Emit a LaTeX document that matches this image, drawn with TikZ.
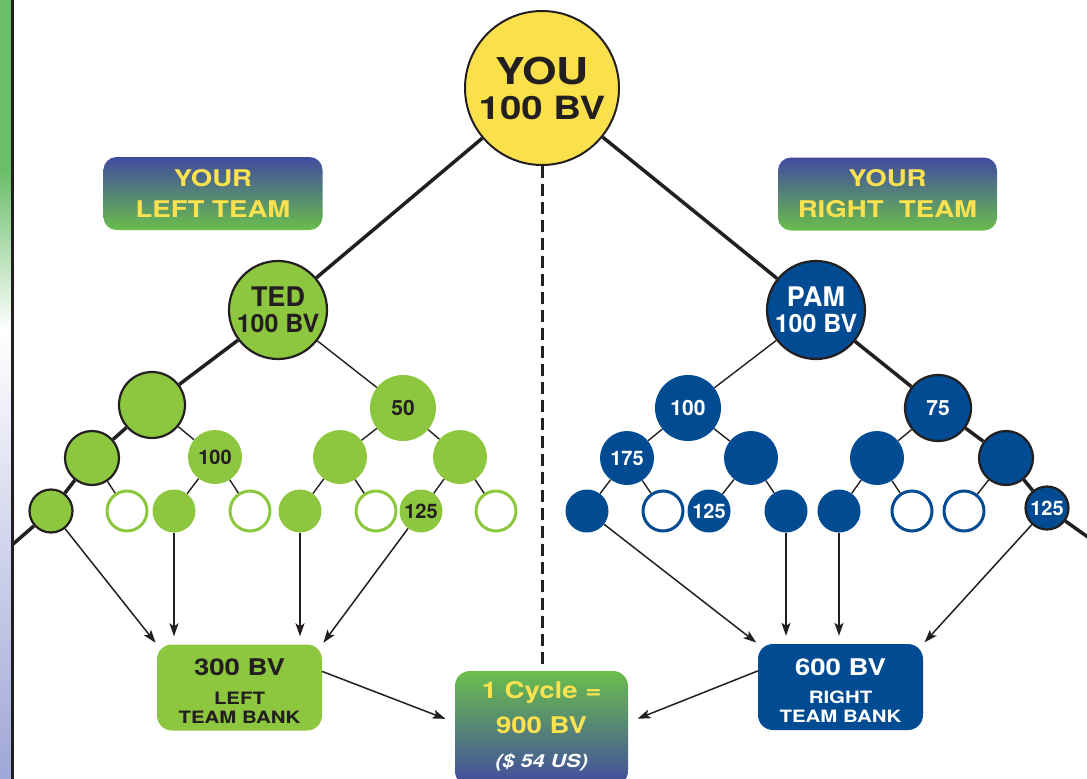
\documentclass[tikz,border=0pt]{standalone}
\usepackage{fontspec}
\setmainfont{TeX Gyre Heros}
\newfontfamily\widefont{TeX Gyre Heros}[FakeStretch=1.2]
\usepackage{tikz}
\usetikzlibrary{positioning,arrows.meta}

\definecolor{teamgreen}{RGB}{141,198,63}
\definecolor{teamblue}{RGB}{0,75,145}
\definecolor{youyellow}{RGB}{250,224,75}
\definecolor{labelyellow}{RGB}{253,226,80}
\definecolor{inkblack}{RGB}{35,31,32}
\definecolor{gradblue}{RGB}{65,74,160}
\definecolor{gradgreen}{RGB}{106,190,76}
\definecolor{stripgreen}{RGB}{106,189,105}
\definecolor{striplav}{RGB}{160,166,214}

\begin{document}
\begin{tikzpicture}[x=1pt, y=-1pt,
			youcircle/.style={circle, draw=inkblack, line width=2pt, fill=youyellow, minimum size=154pt, inner sep=0pt, align=center, text=inkblack, font=\widefont\bfseries\fontsize{37}{35}\selectfont},
			leadgreen/.style={circle, draw=inkblack, line width=2.2pt, fill=teamgreen, minimum size=98pt, inner sep=0pt, align=center, text=inkblack, font=\bfseries\fontsize{27}{26}\selectfont},
			leadblue/.style={leadgreen, fill=teamblue, text=white},
			gfull/.style={circle, fill=teamgreen, inner sep=0pt, text=inkblack},
			gedge/.style={gfull, draw=inkblack, line width=2.2pt},
			gopen/.style={circle, draw=teamgreen, line width=3pt, fill=white, minimum size=40pt, inner sep=0pt},
			bfull/.style={circle, fill=teamblue, inner sep=0pt, text=white},
			bedge/.style={bfull, draw=inkblack, line width=2.2pt},
			bopen/.style={circle, draw=teamblue, line width=3pt, fill=white, minimum size=40pt, inner sep=0pt},
			sizeA/.style={minimum size=66pt, font=\bfseries\fontsize{21}{21}\selectfont},
			sizeB/.style={minimum size=54pt, font=\bfseries\fontsize{20}{20}\selectfont},
			sizeC/.style={minimum size=43pt, font=\bfseries\fontsize{20}{20}\selectfont},
			teamlabel/.style={rectangle, rounded corners=13pt, top color=gradblue, bottom color=gradgreen, minimum width=219pt, minimum height=73pt, align=center, text=labelyellow, font=\widefont\bfseries\fontsize{23}{31}\selectfont},
			bankgreen/.style={rectangle, rounded corners=15pt, fill=teamgreen, minimum width=165pt, minimum height=86pt},
			bankblue/.style={bankgreen, fill=teamblue},
			cyclebox/.style={rectangle, rounded corners=15pt, top color=gradgreen, bottom color=gradblue, minimum width=173pt, minimum height=115pt},
			banksum/.style={anchor=base, inner sep=0pt, font=\widefont\bfseries\fontsize{23}{23}\selectfont},
			bankname/.style={anchor=base, inner sep=0pt, font=\widefont\bfseries\fontsize{17}{17}\selectfont},
			cycletext/.style={anchor=base, inner sep=0pt, text=labelyellow, font=\widefont\bfseries\fontsize{23}{23}\selectfont},
			thickline/.style={draw=inkblack, line width=3.5pt},
			thinline/.style={draw=inkblack, line width=1.4pt},
			dashline/.style={draw=inkblack, line width=3pt, dash pattern=on 12pt off 6pt},
			flow/.style={draw=inkblack, line width=1.5pt, -{Stealth[length=13pt,width=9pt,inset=3pt]}},
			]
			\useasboundingbox (0,0) rectangle (1087,779);
			%Side strip
				\fill[stripgreen] (0,0) rectangle (10.5,170);
				\shade[top color=stripgreen, bottom color=white] (0,170) rectangle (10.5,330);
				\shade[top color=white, bottom color=striplav] (0,330) rectangle (10.5,779);
				\draw[inkblack, line width=3pt] (12,0) -- (12,779);

			%Nodes
				\node[youcircle]	(you)		at (542,88)	{YOU\\\fontsize{32}{35}\selectfont 100 BV};
				\node[teamlabel]	(leftlabel)	at (213,193.5)	{YOUR\\LEFT TEAM};
				\node[teamlabel]	(rightlabel)	at (887.5,194)	{YOUR\\RIGHT~~TEAM};

				\node[leadgreen]	(ted)		at (278,310)	{TED\\\fontsize{25}{26}\selectfont 100 BV};
				\node[gedge,sizeA]	(l1a)		at (152,405)	{};
				\node[gfull,sizeA]	(l1b)		at (403,408)	{50};
				\node[gedge,sizeB]	(l2a)		at (92,458)	{};
				\node[gfull,sizeB]	(l2b)		at (215,457)	{100};
				\node[gfull,sizeB]	(l2c)		at (340,457)	{};
				\node[gfull,sizeB]	(l2d)		at (460,457)	{};
				\node[gedge,sizeC]	(l3a)		at (51,511)	{};
				\node[gopen]		(l3b)		at (127,511)	{};
				\node[gfull,sizeC]	(l3c)		at (174,511)	{};
				\node[gopen]		(l3d)		at (250,511)	{};
				\node[gfull,sizeC]	(l3e)		at (300,511)	{};
				\node[gopen]		(l3f)		at (376,511)	{};
				\node[gfull,sizeC]	(l3g)		at (421,511)	{125};
				\node[gopen]		(l3h)		at (496,511)	{};

				\node[leadblue]		(pam)		at (816,310)	{PAM\\\fontsize{25}{26}\selectfont 100 BV};
				\node[bfull,sizeA]	(r1a)		at (688,408)	{100};
				\node[bedge,sizeA]	(r1b)		at (938,408)	{75};
				\node[bfull,sizeB]	(r2a)		at (627,458)	{175};
				\node[bfull,sizeB]	(r2b)		at (751,458)	{};
				\node[bfull,sizeB]	(r2c)		at (877,458)	{};
				\node[bedge,sizeB]	(r2d)		at (1006,458)	{};
				\node[bfull,sizeC]	(r3a)		at (587,511)	{};
				\node[bopen]		(r3b)		at (663,511)	{};
				\node[bfull,sizeC]	(r3c)		at (709,511)	{125};
				\node[bfull,sizeC]	(r3d)		at (786,511)	{};
				\node[bfull,sizeC]	(r3e)		at (839,511)	{};
				\node[bopen]		(r3f)		at (912,511)	{};
				\node[bopen]		(r3g)		at (964,511)	{};
				\node[bedge,sizeC]	(r3h)		at (1047,508)	{125};

				\node[bankgreen]	(leftbank)	at (239.5,687.5)	{};
				\node[banksum,text=inkblack]	(leftsum)	at (239.5,675)	{300 BV};
				\node[bankname,text=inkblack]	(leftname)	at (239.5,704)	{LEFT};
				\node[bankname,text=inkblack]	(leftbankname)	at (239.5,723)	{TEAM BANK};

				\node[bankblue]		(rightbank)	at (840.5,687)	{};
				\node[banksum,text=white]	(rightsum)	at (840.5,675)	{600 BV};
				\node[bankname,text=white]	(rightname)	at (840.5,703.5)	{RIGHT};
				\node[bankname,text=white]	(rightbankname)	at (840.5,722)	{TEAM BANK};

				\node[cyclebox]		(cycle)		at (541.5,728.5)	{};
				\node[cycletext]	(cycleone)	at (541.5,698)	{1 Cycle =};
				\node[cycletext]	(cycletwo)	at (541.5,733)	{900 BV};
				\node[cycletext,text=white,font=\widefont\bfseries\itshape\fontsize{18}{18}\selectfont]	(cyclethree)	at (541.5,767)	{(\$ 54 US)};

				\coordinate (dashend)	at (542,668);
				\coordinate (leftedge)	at (12,545);
				\coordinate (rightedge)	at (1092,540);

			%Lines
				\draw[dashline] (you) -- (dashend);
				\draw[thickline] (you) -- (ted);
				\draw[thickline] (you) -- (pam);
				\draw[thickline] (ted) -- (l1a);
				\draw[thickline] (l1a) -- (l2a);
				\draw[thickline] (l2a) -- (l3a);
				\draw[thickline] (l3a) -- (leftedge);
				\draw[thinline] (ted) -- (l1b);
				\draw[thinline] (l1a) -- (l2b);
				\draw[thinline] (l2a) -- (l3b);
				\draw[thinline] (l2b) -- (l3c);
				\draw[thinline] (l2b) -- (l3d);
				\draw[thinline] (l1b) -- (l2c);
				\draw[thinline] (l1b) -- (l2d);
				\draw[thinline] (l2c) -- (l3e);
				\draw[thinline] (l2c) -- (l3f);
				\draw[thinline] (l2d) -- (l3g);
				\draw[thinline] (l2d) -- (l3h);

				\draw[thickline] (pam) -- (r1b);
				\draw[thickline] (r1b) -- (r2d);
				\draw[thickline] (r2d) -- (r3h);
				\draw[thickline] (r3h) -- (rightedge);
				\draw[thinline] (pam) -- (r1a);
				\draw[thinline] (r1a) -- (r2a);
				\draw[thinline] (r1a) -- (r2b);
				\draw[thinline] (r2a) -- (r3a);
				\draw[thinline] (r2a) -- (r3b);
				\draw[thinline] (r2b) -- (r3c);
				\draw[thinline] (r2b) -- (r3d);
				\draw[thinline] (r1b) -- (r2c);
				\draw[thinline] (r2c) -- (r3e);
				\draw[thinline] (r2c) -- (r3f);
				\draw[thinline] (r2d) -- (r3g);

			%Arrows
				\draw[flow,shorten >=2pt] (l3a) -- (leftbank.north west);
				\draw[flow,shorten >=8pt] (l3c) -- (l3c |- leftbank.north);
				\draw[flow,shorten >=8pt] (l3e) -- (l3e |- leftbank.north);
				\draw[flow,shorten >=2pt] (l3g) -- (leftbank.north east);
				\draw[flow,shorten >=2pt] (r3a) -- (rightbank.north west);
				\draw[flow,shorten >=8pt] (r3d) -- (r3d |- rightbank.north);
				\draw[flow,shorten >=8pt] (r3e) -- (r3e |- rightbank.north);
				\draw[flow,shorten >=2pt] (r3h) -- (rightbank.north east);
				\draw[flow,shorten >=10pt] (leftbank.11) -- (cycle.176);
				\draw[flow,shorten >=10pt] (rightbank.169) -- (cycle.4);
		\end{tikzpicture}
\end{document}
